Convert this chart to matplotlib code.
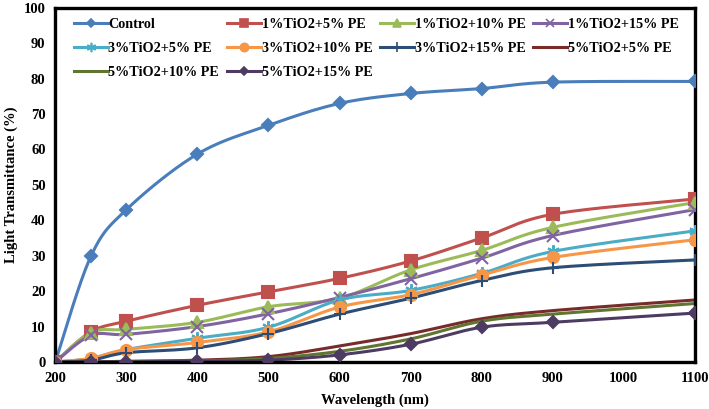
import numpy as np
import matplotlib
matplotlib.use('Agg')
import matplotlib.pyplot as plt

### data
wavelength = [200, 250, 300, 400, 500, 600, 700, 800, 900, 1100]

control  = [0, 29.8, 43.0, 58.7, 66.8, 73.0, 75.8, 77.2, 79.0, 79.2]
t1_pe5   = [0, 8.5, 11.5, 16.0, 19.8, 23.6, 28.5, 35.0, 41.7, 46.0]
t1_pe10  = [0, 8.3, 9.2, 11.2, 15.6, 18.0, 26.0, 31.5, 38.0, 45.0]
t1_pe15  = [0, 7.5, 7.8, 10.0, 13.6, 18.2, 23.5, 29.3, 35.7, 43.0]
t3_pe5   = [0, 1.0, 3.5, 6.7, 9.8, 17.5, 20.2, 25.0, 31.2, 37.0]
t3_pe10  = [0, 1.0, 3.5, 5.5, 8.5, 15.5, 19.0, 24.5, 29.5, 34.5]
t3_pe15  = [0, 0.5, 2.6, 4.0, 8.0, 13.5, 18.0, 23.0, 26.6, 28.8]
t5_pe5   = [0, 0.0, 0.2, 0.5, 1.5, 4.5, 8.0, 12.2, 14.5, 17.5]
t5_pe10  = [0, 0.0, 0.1, 0.3, 1.0, 3.0, 6.5, 11.5, 13.5, 16.5]
t5_pe15  = [0, 0.0, 0.0, 0.2, 0.5, 2.0, 5.0, 9.8, 11.2, 13.8]

labels = ['Control', '1%TiO2+5% PE', '1%TiO2+10% PE', '1%TiO2+15% PE',
          '3%TiO2+5% PE', '3%TiO2+10% PE', '3%TiO2+15% PE', '5%TiO2+5% PE',
          '5%TiO2+10% PE', '5%TiO2+15% PE']
series = [control, t1_pe5, t1_pe10, t1_pe15, t3_pe5, t3_pe10, t3_pe15,
          t5_pe5, t5_pe10, t5_pe15]

### styles (Excel-like palette)
colors = ['#4A7EBB', '#C0504D', '#9BBB59', '#8064A2', '#4BACC6', '#F79646',
          '#2C4D75', '#772C2A', '#5F7530', '#4D3B62']
markers = ['D', 's', '^', 'x', (6, 2, 0), 'o', '+', None, None, 'D']
msizes = [6, 8, 8, 8, 9, 8, 9, 0, 0, 6]


def smooth(x, y, n=20):
    """Catmull-Rom curve through the points, only for drawing the line."""
    sx, sy = 640 / 900.0, 3.54
    p = np.column_stack([np.asarray(x) * sx, np.asarray(y) * sy])
    p = np.vstack([p[0], p, p[-1]])
    out = []
    t = np.linspace(0, 1, n, endpoint=False)[:, None]
    for i in range(1, len(p) - 2):
        p0, p1, p2, p3 = p[i - 1], p[i], p[i + 1], p[i + 2]
        seg = 0.5 * ((2 * p1) + (-p0 + p2) * t +
                     (2 * p0 - 5 * p1 + 4 * p2 - p3) * t ** 2 +
                     (-p0 + 3 * p1 - 3 * p2 + p3) * t ** 3)
        out.append(seg)
    out.append(p[-2][None, :])
    out = np.vstack(out)
    return out[:, 0] / sx, out[:, 1] / sy


plt.rcParams['font.family'] = ['Liberation Serif', 'DejaVu Serif']
plt.rcParams['font.weight'] = 'bold'

fig = plt.figure(figsize=(7.09, 4.09), dpi=100)
ax = fig.add_axes([0.078, 0.115, 0.902, 0.866])

handles = []
for vals, lab, col, mk, ms in zip(series, labels, colors, markers, msizes):
    xs, ys = smooth(wavelength, vals)
    ax.plot(xs, ys, color=col, lw=2.2, zorder=2)
    if mk is not None:
        ax.plot(wavelength, vals, linestyle='none', marker=mk, markersize=ms,
                color=col, markeredgecolor=col, markeredgewidth=1.5, zorder=3)
    # legend handle
    h, = ax.plot([], [], color=col, lw=2.2, marker=mk, markersize=ms * 0.75 if ms else 0,
                 markeredgewidth=1.2, label=lab)
    handles.append(h)

ax.set_xlim(200, 1100)
ax.set_ylim(0, 100)
ax.set_xticks(np.arange(200, 1101, 100))
ax.set_yticks(np.arange(0, 101, 10))
ax.tick_params(length=0, labelsize=10.5, pad=7)
for lab in ax.get_xticklabels() + ax.get_yticklabels():
    lab.set_fontweight('bold')
for sp in ax.spines.values():
    sp.set_linewidth(2.4)

ax.set_xlabel('Wavelength (nm)', fontsize=10.5, fontweight='bold', labelpad=6)
ax.set_ylabel('Light Transmittance (%)', fontsize=10.5, fontweight='bold', labelpad=4)

### legend filled row by row like the reference
order = [0, 4, 8, 1, 5, 9, 2, 6, 3, 7]
leg = ax.legend([handles[i] for i in order], [labels[i] for i in order],
                ncol=4, loc='upper left', bbox_to_anchor=(0.012, 1.0), frameon=False,
                fontsize=10.2, handlelength=2.4, handletextpad=0.05, columnspacing=0.55,
                labelspacing=0.75, borderaxespad=0.35)
for t in leg.get_texts():
    t.set_fontweight('bold')

plt.savefig('out.png', dpi=100)
plt.close(fig)
